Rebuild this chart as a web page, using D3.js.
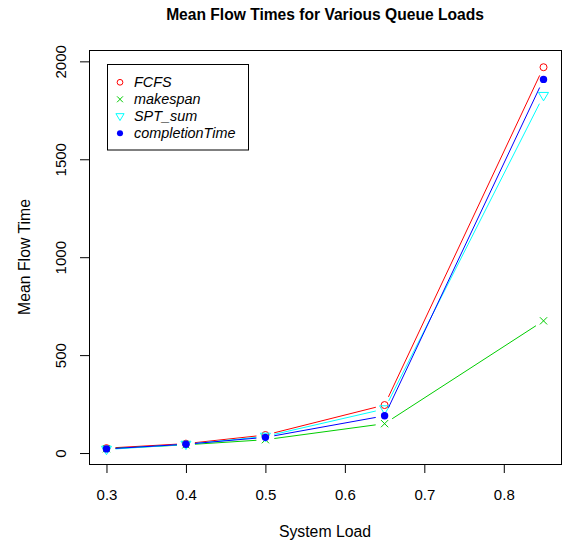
<!DOCTYPE html>
<html>
<head>
<meta charset="utf-8">
<script src="https://cdn.jsdelivr.net/npm/d3@7/dist/d3.min.js"></script>
<style>
  html, body { margin: 0; padding: 0; background: #fff; }
  svg { display: block; font-family: "Liberation Sans", Arial, Helvetica, sans-serif; }
</style>
</head>
<body>
<svg id="chart" width="567" height="544"></svg>
<script>
// ---- data ----
const loads = [0.3, 0.4, 0.5, 0.65, 0.85];
const fcfs = [25, 48, 92, 245, 1970];
const makespan = [22, 42, 68, 150, 675];
const sptSum = [18, 44, 85, 225, 1825];
const completionTime = [21, 45, 80, 190, 1908];
const seriesNames = ["FCFS", "makespan", "SPT_sum", "completionTime"];
const seriesColors = ["#FF0000", "#00CD00", "#00FFFF", "#0000FF"];
const seriesShapes = ["circle", "cross", "triangle", "dot"];
const xTicks = [0.3, 0.4, 0.5, 0.6, 0.7, 0.8];
const yTicks = [0, 500, 1000, 1500, 2000];
const yLimits = [-56, 2058];
const title = "Mean Flow Times for Various Queue Loads";
const xLabel = "System Load";
const yLabel = "Mean Flow Time";

const seriesValues = [fcfs, makespan, sptSum, completionTime];

// ---- layout ----
const svg = d3.select("#chart");
const L = 89, R = 561, T = 50, B = 464;
const xPad = (d3.max(loads) - d3.min(loads)) * 0.04;
const x = d3.scaleLinear().domain([d3.min(loads) - xPad, d3.max(loads) + xPad]).range([L, R]);
const y = d3.scaleLinear().domain(yLimits).range([B, T]);

const FS = 14.4;
const TFS = 15;
const LFS = 15.8;

// title
svg.append("text").attr("x", (L + R) / 2).attr("y", 20)
  .attr("text-anchor", "middle").attr("font-weight", "bold").attr("font-size", 15.6)
  .text(title);

// box
svg.append("rect").attr("x", L).attr("y", T).attr("width", R - L).attr("height", B - T)
  .attr("fill", "none").attr("stroke", "#000").attr("stroke-width", 1).attr("shape-rendering", "crispEdges");

// x axis
const xAxis = d3.axisBottom(x).tickValues(xTicks).tickSize(9).tickPadding(16)
  .tickFormat(d3.format(".1f"));
const gx = svg.append("g").attr("transform", `translate(0,${B})`).call(xAxis);
gx.select(".domain").remove();
gx.selectAll("text").attr("font-size", TFS).attr("font-family", "Liberation Sans, Arial, sans-serif").attr("fill", "#000");
gx.selectAll("line").attr("stroke", "#000");

// y axis
const yAxis = d3.axisLeft(y).tickValues(yTicks).tickSize(9).tickFormat(d3.format("d"));
const gy = svg.append("g").attr("transform", `translate(${L},0)`).call(yAxis);
gy.select(".domain").remove();
gy.selectAll("line").attr("stroke", "#000");
gy.selectAll("text")
  .attr("font-size", TFS).attr("font-family", "Liberation Sans, Arial, sans-serif").attr("fill", "#000")
  .attr("x", null).attr("dy", null)
  .attr("text-anchor", "middle")
  .attr("transform", "translate(-23,0) rotate(-90)");

// axis labels
svg.append("text").attr("x", (L + R) / 2).attr("y", 537)
  .attr("text-anchor", "middle").attr("font-size", LFS).text(xLabel);
svg.append("text").attr("transform", `translate(30,${(T + B) / 2}) rotate(-90)`)
  .attr("text-anchor", "middle").attr("font-size", LFS).text(yLabel);

// symbols
function drawSymbol(g, shape, color, cx, cy, s) {
  if (shape === "circle") {
    g.append("circle").attr("cx", cx).attr("cy", cy).attr("r", 3.5 * s)
      .attr("fill", "none").attr("stroke", color).attr("stroke-width", 1);
  } else if (shape === "dot") {
    g.append("circle").attr("cx", cx).attr("cy", cy).attr("r", 3.7 * s)
      .attr("fill", color).attr("stroke", "none");
  } else if (shape === "cross") {
    const h = 3.6 * s;
    g.append("path").attr("d", `M${cx - h},${cy - h}L${cx + h},${cy + h}M${cx - h},${cy + h}L${cx + h},${cy - h}`)
      .attr("stroke", color).attr("stroke-width", 1).attr("fill", "none");
  } else if (shape === "triangle") {
    const w = 5 * s, up = 3.2 * s, dn = 5.2 * s;
    g.append("path").attr("d", `M${cx - w},${cy - up}L${cx + w},${cy - up}L${cx},${cy + dn}Z`)
      .attr("stroke", color).attr("stroke-width", 1).attr("fill", "none");
  }
}

// series (type = "b": lines with gaps around points)
const gap = 9;
seriesValues.forEach((vals, si) => {
  const g = svg.append("g");
  const color = seriesColors[si];
  const pts = loads.map((l, i) => [x(l), y(vals[i])]);
  for (let i = 0; i < pts.length - 1; i++) {
    const [x0, y0] = pts[i], [x1, y1] = pts[i + 1];
    const dx = x1 - x0, dy = y1 - y0, len = Math.hypot(dx, dy);
    if (len <= 2 * gap) continue;
    const ux = dx / len, uy = dy / len;
    g.append("line")
      .attr("x1", x0 + ux * gap).attr("y1", y0 + uy * gap)
      .attr("x2", x1 - ux * gap).attr("y2", y1 - uy * gap)
      .attr("stroke", color).attr("stroke-width", 1);
  }
  pts.forEach(([px, py]) => drawSymbol(g, seriesShapes[si], color, px, py, 1));
});

// legend
const lg = svg.append("g");
lg.append("rect").attr("x", 107.5).attr("y", 64.5).attr("width", 141).attr("height", 85.5)
  .attr("fill", "#fff").attr("stroke", "#000").attr("stroke-width", 1);
seriesNames.forEach((name, i) => {
  const cy = 82.3 + i * 17;
  drawSymbol(lg, seriesShapes[i], seriesColors[i], 120, cy, 0.82);
  lg.append("text").attr("x", 134).attr("y", cy + 5)
    .attr("font-size", FS).attr("font-style", "italic").text(name);
});
</script>
</body>
</html>
